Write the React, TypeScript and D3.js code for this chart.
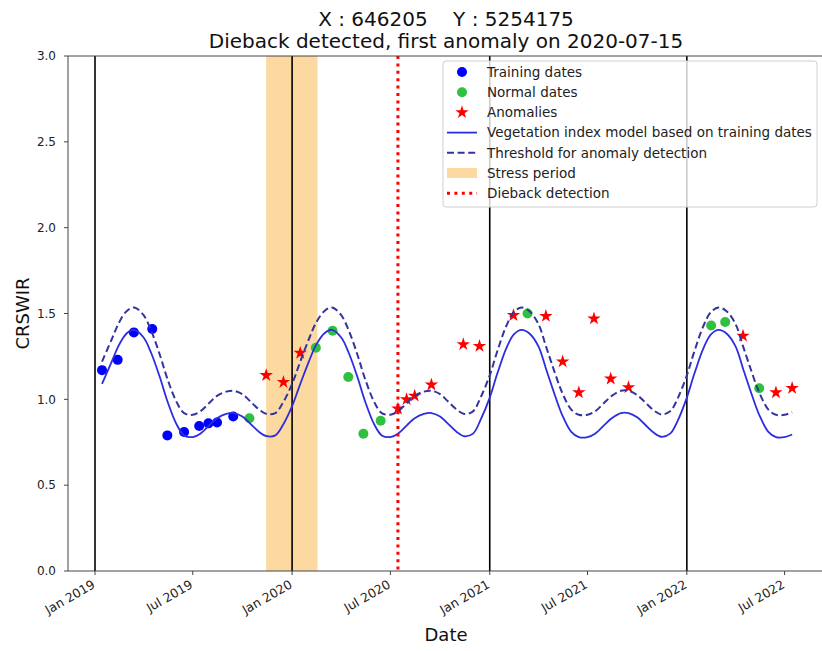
import React from "react";
import * as d3 from "d3";

// ---- Chart data ----
const TITLE_LINE_1 = "X : 646205    Y : 5254175";
const TITLE_LINE_2 = "Dieback detected, first anomaly on 2020-07-15";

const TRAINING_DATES = [
  "2019-01-14", "2019-02-12", "2019-03-14", "2019-04-17", "2019-05-15",
  "2019-06-15", "2019-07-13", "2019-07-30", "2019-08-15", "2019-09-14",
];
const TRAINING_VALUES = [1.17, 1.23, 1.39, 1.41, 0.79, 0.81, 0.845, 0.86, 0.865, 0.9];

const NORMAL_DATES = [
  "2019-10-14", "2020-02-14", "2020-03-16", "2020-04-14", "2020-05-12",
  "2020-06-13", "2021-03-12", "2022-02-15", "2022-03-13", "2022-05-15",
];
const NORMAL_VALUES = [0.89, 1.3, 1.4, 1.13, 0.8, 0.875, 1.5, 1.43, 1.45, 1.065];

const ANOMALY_DATES = [
  "2019-11-14", "2019-12-16", "2020-01-16", "2020-07-15", "2020-07-31",
  "2020-08-15", "2020-09-15", "2020-11-13", "2020-12-13", "2021-02-14",
  "2021-04-15", "2021-05-16", "2021-06-15", "2021-07-13", "2021-08-13",
  "2021-09-15", "2022-04-15", "2022-06-15", "2022-07-15",
];
const ANOMALY_VALUES = [
  1.14, 1.1, 1.27, 0.945, 1.0, 1.02, 1.085, 1.32, 1.31, 1.49,
  1.485, 1.22, 1.04, 1.47, 1.12, 1.07, 1.37, 1.04, 1.065,
];

// Vegetation index model sampled twice a month
const MODEL_DATES = [
  "2019-01-14", "2019-02-01", "2019-02-15", "2019-03-01", "2019-03-15", "2019-04-01", "2019-04-15",
  "2019-05-01", "2019-05-15", "2019-06-01", "2019-06-15", "2019-07-01", "2019-07-15", "2019-08-01",
  "2019-08-15", "2019-09-01", "2019-09-15", "2019-10-01", "2019-10-15", "2019-11-01", "2019-11-15",
  "2019-12-01", "2019-12-15",
  "2020-01-01", "2020-01-15", "2020-02-01", "2020-02-15", "2020-03-01", "2020-03-15", "2020-04-01",
  "2020-04-15", "2020-05-01", "2020-05-15", "2020-06-01", "2020-06-15", "2020-07-01", "2020-07-15",
  "2020-08-01", "2020-08-15", "2020-09-01", "2020-09-15", "2020-10-01", "2020-10-15", "2020-11-01",
  "2020-11-15", "2020-12-01", "2020-12-15",
  "2021-01-01", "2021-01-15", "2021-02-01", "2021-02-15", "2021-03-01", "2021-03-15", "2021-04-01",
  "2021-04-15", "2021-05-01", "2021-05-15", "2021-06-01", "2021-06-15", "2021-07-01", "2021-07-15",
  "2021-08-01", "2021-08-15", "2021-09-01", "2021-09-15", "2021-10-01", "2021-10-15", "2021-11-01",
  "2021-11-15", "2021-12-01", "2021-12-15",
  "2022-01-01", "2022-01-15", "2022-02-01", "2022-02-15", "2022-03-01", "2022-03-15", "2022-04-01",
  "2022-04-15", "2022-05-01", "2022-05-15", "2022-06-01", "2022-06-15", "2022-07-01", "2022-07-15",
];
const MODEL_VALUES = [
  1.09, 1.22, 1.32, 1.385, 1.405, 1.36, 1.27, 1.13, 0.99, 0.855, 0.79, 0.78, 0.8, 0.85,
  0.89, 0.915, 0.92, 0.9, 0.86, 0.81, 0.785, 0.79, 0.85,
  0.96, 1.08, 1.22, 1.32, 1.385, 1.405, 1.36, 1.27, 1.13, 0.99, 0.855, 0.79, 0.78, 0.8,
  0.85, 0.89, 0.915, 0.92, 0.9, 0.86, 0.81, 0.785, 0.8, 0.88,
  1.01, 1.15, 1.3, 1.38, 1.405, 1.385, 1.31, 1.18, 1.03, 0.91, 0.81, 0.78, 0.78, 0.8,
  0.85, 0.89, 0.92, 0.92, 0.895, 0.855, 0.805, 0.782, 0.8, 0.875,
  1.01, 1.15, 1.3, 1.38, 1.405, 1.385, 1.31, 1.18, 1.03, 0.91, 0.81, 0.78, 0.78, 0.795,
];
const THRESHOLD_VALUES = [
  1.22, 1.35, 1.45, 1.515, 1.535, 1.49, 1.4, 1.26, 1.12, 0.985, 0.92, 0.91, 0.93, 0.98,
  1.02, 1.045, 1.05, 1.03, 0.99, 0.94, 0.915, 0.92, 0.98,
  1.09, 1.21, 1.35, 1.45, 1.515, 1.535, 1.49, 1.4, 1.26, 1.12, 0.985, 0.92, 0.91, 0.93,
  0.98, 1.02, 1.045, 1.05, 1.03, 0.99, 0.94, 0.915, 0.93, 1.01,
  1.14, 1.28, 1.43, 1.51, 1.535, 1.515, 1.44, 1.31, 1.16, 1.04, 0.94, 0.91, 0.91, 0.93,
  0.98, 1.02, 1.05, 1.05, 1.025, 0.985, 0.935, 0.912, 0.93, 1.005,
  1.14, 1.28, 1.43, 1.51, 1.535, 1.515, 1.44, 1.31, 1.16, 1.04, 0.94, 0.91, 0.91, 0.925,
];

const YEAR_LINES = ["2019-01-01", "2020-01-01", "2021-01-01", "2022-01-01"];
const STRESS_PERIOD = ["2019-11-14", "2020-02-17"];
const DIEBACK_DATE = "2020-07-15";

const X_TICK_DATES = [
  "2019-01-01", "2019-07-01", "2020-01-01", "2020-07-01",
  "2021-01-01", "2021-07-01", "2022-01-01", "2022-07-01",
];
const X_TICK_LABELS = [
  "Jan 2019", "Jul 2019", "Jan 2020", "Jul 2020",
  "Jan 2021", "Jul 2021", "Jan 2022", "Jul 2022",
];
const Y_TICKS = [0, 0.5, 1.0, 1.5, 2.0, 2.5, 3.0];
const X_DOMAIN = ["2018-11-12", "2022-09-12"];
const Y_DOMAIN = [0, 3];

const LEGEND_LABELS = [
  "Training dates",
  "Normal dates",
  "Anomalies",
  "Vegetation index model based on training dates",
  "Threshold for anomaly detection",
  "Stress period",
  "Dieback detection",
];

// ---- Layout ----
const WIDTH = 822;
const HEIGHT = 651;
const PLOT = { left: 68, right: 824, top: 56, bottom: 571 };
const FONT = "'DejaVu Sans', sans-serif";

const BLUE = "#0000ff";
const GREEN = "#2fc040";
const RED = "#ff0000";
const LINE_BLUE = "#2d2de0";
const DASH_BLUE = "#34349e";
const STRESS_FILL = "#fcd9a0";

const parse = d3.utcParse("%Y-%m-%d");

export default function App() {
  const x = d3
    .scaleUtc()
    .domain(X_DOMAIN.map((d) => parse(d) as Date))
    .range([PLOT.left, PLOT.right]);
  const y = d3.scaleLinear().domain(Y_DOMAIN).range([PLOT.bottom, PLOT.top]);

  const modelPts = MODEL_DATES.map((d, i) => [parse(d) as Date, MODEL_VALUES[i]] as [Date, number]);
  const thrPts = MODEL_DATES.map((d, i) => [parse(d) as Date, THRESHOLD_VALUES[i]] as [Date, number]);
  const line = d3
    .line<[Date, number]>()
    .x((d) => x(d[0]))
    .y((d) => y(d[1]))
    .curve(d3.curveCatmullRom.alpha(0.5));

  const star = d3.symbol().type(d3.symbolStar).size(56)() as string;

  const stressX0 = x(parse(STRESS_PERIOD[0]) as Date);
  const stressX1 = x(parse(STRESS_PERIOD[1]) as Date);
  const diebackX = x(parse(DIEBACK_DATE) as Date);

  const legend = { x: 443, y: 61, w: 374, h: 146 };
  const rowY = (i: number) => 72 + i * 20.2;
  const hx0 = 447;
  const hx1 = 477;
  const hxm = 462;
  const cx = (PLOT.left + PLOT.right) / 2;

  return (
    <svg
      width={WIDTH}
      height={HEIGHT}
      style={{ position: "absolute", left: 0, top: 0, background: "#fff" }}
      fontFamily={FONT}
    >
      <rect width={WIDTH} height={HEIGHT} fill="#fff" />
      <defs>
        <clipPath id="plot-clip">
          <rect x={PLOT.left} y={PLOT.top} width={PLOT.right - PLOT.left} height={PLOT.bottom - PLOT.top} />
        </clipPath>
      </defs>

      {/* Title */}
      <text x={cx} y={26} textAnchor="middle" fontSize={20} fill="#111" style={{ whiteSpace: "pre" }}>
        {TITLE_LINE_1}
      </text>
      <text x={cx} y={48} textAnchor="middle" fontSize={20} fill="#111">
        {TITLE_LINE_2}
      </text>

      <g clipPath="url(#plot-clip)">
        {/* Stress period */}
        <rect x={stressX0} y={PLOT.top} width={stressX1 - stressX0} height={PLOT.bottom - PLOT.top} fill={STRESS_FILL} />

        {/* Year boundaries */}
        {YEAR_LINES.map((d) => {
          const xx = x(parse(d) as Date);
          return <line key={d} x1={xx} x2={xx} y1={PLOT.top} y2={PLOT.bottom} stroke="#000" strokeWidth={1.6} />;
        })}

        {/* Observations */}
        {TRAINING_DATES.map((d, i) => (
          <circle key={"t" + d} cx={x(parse(d) as Date)} cy={y(TRAINING_VALUES[i])} r={5} fill={BLUE} />
        ))}
        {NORMAL_DATES.map((d, i) => (
          <circle key={"n" + d} cx={x(parse(d) as Date)} cy={y(NORMAL_VALUES[i])} r={5} fill={GREEN} />
        ))}
        {ANOMALY_DATES.map((d, i) => (
          <path
            key={"a" + d}
            d={star}
            transform={`translate(${x(parse(d) as Date)},${y(ANOMALY_VALUES[i])})`}
            fill={RED}
          />
        ))}

        {/* Model and threshold */}
        <path d={line(modelPts) as string} fill="none" stroke={LINE_BLUE} strokeWidth={1.8} />
        <path d={line(thrPts) as string} fill="none" stroke={DASH_BLUE} strokeWidth={2} strokeDasharray="7,3.6" />

        {/* Dieback detection */}
        <line
          x1={diebackX}
          x2={diebackX}
          y1={PLOT.top}
          y2={PLOT.bottom}
          stroke={RED}
          strokeWidth={3}
          strokeDasharray="3,4.4"
        />
      </g>

      {/* Spines */}
      <line x1={PLOT.left} x2={PLOT.left} y1={PLOT.top} y2={PLOT.bottom} stroke="#444" strokeWidth={1} />
      <line x1={PLOT.left} x2={PLOT.right} y1={PLOT.bottom} y2={PLOT.bottom} stroke="#444" strokeWidth={1} />
      <line x1={PLOT.left} x2={PLOT.right} y1={PLOT.top} y2={PLOT.top} stroke="#444" strokeWidth={1} />

      {/* Y axis */}
      {Y_TICKS.map((t) => (
        <g key={"y" + t}>
          <line x1={PLOT.left - 4} x2={PLOT.left} y1={y(t)} y2={y(t)} stroke="#444" />
          <text x={PLOT.left - 12} y={y(t)} dy="0.35em" textAnchor="end" fontSize={12} fill="#222">
            {t.toFixed(1)}
          </text>
        </g>
      ))}
      <text
        transform={`translate(29,${(PLOT.top + PLOT.bottom) / 2}) rotate(-90)`}
        textAnchor="middle"
        fontSize={18}
        fill="#111"
      >
        CRSWIR
      </text>

      {/* X axis */}
      {X_TICK_DATES.map((d, i) => {
        const xx = x(parse(d) as Date);
        return (
          <g key={"x" + d}>
            <line x1={xx} x2={xx} y1={PLOT.bottom} y2={PLOT.bottom + 4} stroke="#444" />
            <text
              transform={`translate(${xx + 1},${PLOT.bottom + 16}) rotate(-30)`}
              textAnchor="end"
              fontSize={12.5}
              fill="#222"
            >
              {X_TICK_LABELS[i]}
            </text>
          </g>
        );
      })}
      <text x={cx} y={641} textAnchor="middle" fontSize={18} fill="#111">
        Date
      </text>

      {/* Legend */}
      <rect
        x={legend.x}
        y={legend.y}
        width={legend.w}
        height={legend.h}
        rx={3}
        fill="#fff"
        fillOpacity={0.8}
        stroke="#cfcfcf"
      />
      <circle cx={hxm} cy={rowY(0)} r={5} fill={BLUE} />
      <circle cx={hxm} cy={rowY(1)} r={5} fill={GREEN} />
      <path d={star} transform={`translate(${hxm},${rowY(2)})`} fill={RED} />
      <line x1={hx0} x2={hx1} y1={rowY(3)} y2={rowY(3)} stroke={LINE_BLUE} strokeWidth={1.8} />
      <line x1={hx0} x2={hx1} y1={rowY(4)} y2={rowY(4)} stroke={DASH_BLUE} strokeWidth={2} strokeDasharray="7,3.6" />
      <rect x={hx0} y={rowY(5) - 5} width={hx1 - hx0} height={10} fill={STRESS_FILL} />
      <line x1={hx0} x2={hx1} y1={rowY(6)} y2={rowY(6)} stroke={RED} strokeWidth={3} strokeDasharray="3,4.4" />
      {LEGEND_LABELS.map((l, i) => (
        <text key={l} x={487} y={rowY(i)} dy="0.35em" fontSize={13.5} fill="#222">
          {l}
        </text>
      ))}
    </svg>
  );
}
